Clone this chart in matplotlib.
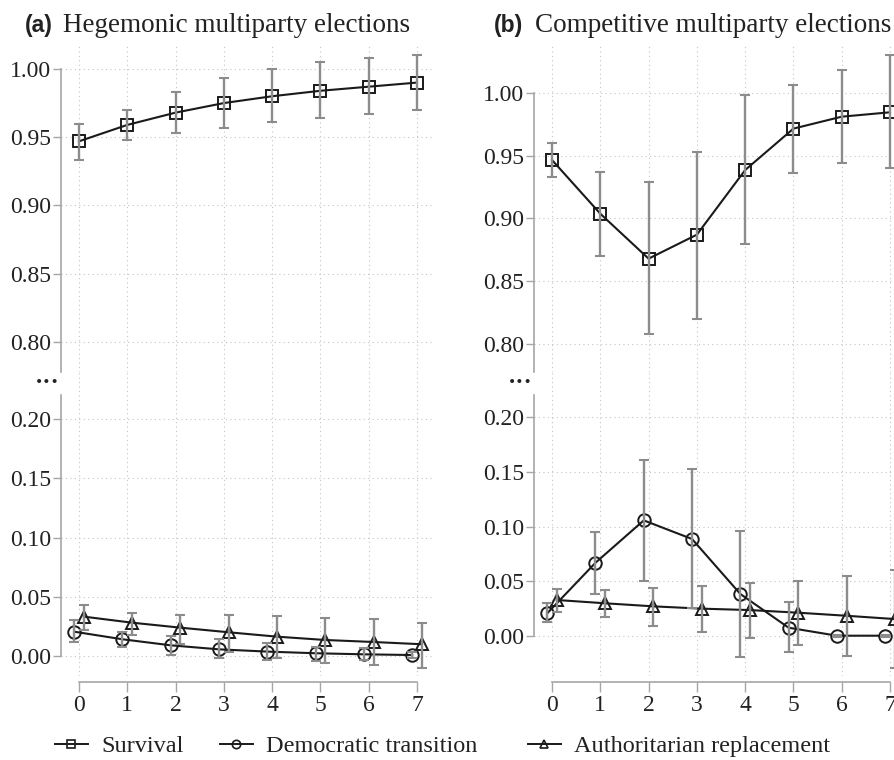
import numpy as np
import matplotlib
matplotlib.use("Agg")
import matplotlib.pyplot as plt
from matplotlib.lines import Line2D

# years since election
years = np.arange(8)

# (a) hegemonic multiparty elections
a_surv = np.array([0.947, 0.959, 0.968, 0.975, 0.980, 0.984, 0.987, 0.990])
a_surv_lo = np.array([0.933, 0.948, 0.953, 0.957, 0.961, 0.964, 0.967, 0.970])
a_surv_hi = np.array([0.960, 0.970, 0.983, 0.993, 1.000, 1.005, 1.008, 1.010])
a_dem = np.array([0.0205, 0.0141, 0.0090, 0.0056, 0.0037, 0.0023, 0.0014, 0.0008])
a_dem_lo = np.array([0.012, 0.008, 0.001, -0.002, -0.003, -0.004, -0.003, -0.002])
a_dem_hi = np.array([0.030, 0.020, 0.017, 0.014, 0.011, 0.008, 0.0065, 0.0035])
a_auth = np.array([0.0332, 0.0281, 0.0239, 0.0200, 0.0163, 0.0135, 0.0118, 0.0099])
a_auth_lo = np.array([0.022, 0.018, 0.010, 0.003, -0.002, -0.006, -0.008, -0.010])
a_auth_hi = np.array([0.043, 0.036, 0.035, 0.035, 0.034, 0.032, 0.031, 0.028])

# (b) competitive multiparty elections
b_surv = np.array([0.9466, 0.9038, 0.868, 0.8871, 0.9386, 0.9716, 0.9811, 0.9846])
b_surv_lo = np.array([0.933, 0.870, 0.808, 0.820, 0.880, 0.936, 0.944, 0.940])
b_surv_hi = np.array([0.960, 0.937, 0.929, 0.953, 0.998, 1.006, 1.018, 1.030])
b_dem = np.array([0.0207, 0.0669, 0.1056, 0.0886, 0.0384, 0.0076, 0.0003, 0.0003])
b_dem_lo = np.array([0.0125, 0.038, 0.050, 0.026, -0.0195, -0.015, -0.0005, -0.0005])
b_dem_hi = np.array([0.030, 0.095, 0.161, 0.1525, 0.096, 0.031, 0.0012, 0.0012])
b_auth = np.array([0.0329, 0.0299, 0.0271, 0.0250, 0.0237, 0.0213, 0.0185, 0.0155])
b_auth_lo = np.array([0.022, 0.017, 0.009, 0.0034, -0.0015, -0.0085, -0.018, -0.0295])
b_auth_hi = np.array([0.043, 0.042, 0.044, 0.046, 0.048, 0.050, 0.055, 0.060])

top_ticks = [0.80, 0.85, 0.90, 0.95, 1.00]
bot_ticks = [0.00, 0.05, 0.10, 0.15, 0.20]
labels = ["Survival", "Democratic transition", "Authoritarian replacement"]

plt.rcParams["font.family"] = ["Liberation Serif", "DejaVu Serif"]
TXT = "#222222"
SPINE = "#a6a6a6"
ERR = "#8c8c8c"
LINE = "#1a1a1a"

W, H = 895, 760
fig = plt.figure(figsize=(W / 100, H / 100), dpi=100)


def box(left, top, right, bottom):
    return [left / W, 1 - bottom / H, (right - left) / W, (bottom - top) / H]


def style(ax, ylim, ticks, spine_lo, spine_hi, bottom_axis):
    ax.set_xlim(-0.373, 7.331)
    ax.set_ylim(*ylim)
    ax.set_yticks(ticks)
    ax.set_yticklabels(["%.2f" % t for t in ticks])
    ax.set_xticks(years)
    ax.grid(True, color="#c4c4c4", linestyle=(0, (1, 3)), linewidth=0.8)
    ax.set_axisbelow(True)
    for s in ["top", "right"]:
        ax.spines[s].set_visible(False)
    ax.spines["left"].set_color(SPINE)
    ax.spines["left"].set_linewidth(1.2)
    ax.spines["left"].set_bounds(spine_lo, spine_hi)
    ax.tick_params(axis="y", length=5.5, width=1.0, color=SPINE, pad=1.5,
                   labelsize=17, labelcolor=TXT)
    if bottom_axis:
        ax.spines["bottom"].set_position(("outward", 4))
        ax.spines["bottom"].set_bounds(0, 7)
        ax.spines["bottom"].set_color(SPINE)
        ax.spines["bottom"].set_linewidth(1.2)
        ax.tick_params(axis="x", length=7, width=1.0, color=SPINE, pad=3,
                       labelsize=17, labelcolor=TXT)
    else:
        ax.spines["bottom"].set_visible(False)
        ax.tick_params(axis="x", length=0, labelbottom=False)
    ax.patch.set_alpha(0)


def series(ax, x, y, lo, hi, marker):
    ax.errorbar(x, y, yerr=[y - lo, hi - y], fmt="none", ecolor=ERR,
                elinewidth=1.7, capsize=3.5, capthick=1.5, zorder=3)
    ax.plot(x, y, color=LINE, lw=1.5, marker=marker, ms=8.5 if marker == "s" else 9,
            mfc="none", mec=LINE, mew=1.4, zorder=2)


panels = [
    dict(left=61, top_ylim=(0.778, 1.019), bot_ylim=(-0.0169, 0.2397),
         surv=(a_surv, a_surv_lo, a_surv_hi), dem=(a_dem, a_dem_lo, a_dem_hi),
         auth=(a_auth, a_auth_lo, a_auth_hi), tag="(a)",
         title="Hegemonic multiparty elections", tag_x=25, title_x=63, dots_x=47),
    dict(left=534, top_ylim=(0.7777, 1.0398), bot_ylim=(-0.0365, 0.2411),
         surv=(b_surv, b_surv_lo, b_surv_hi), dem=(b_dem, b_dem_lo, b_dem_hi),
         auth=(b_auth, b_auth_lo, b_auth_hi), tag="(b)",
         title="Competitive multiparty elections", tag_x=494, title_x=535, dots_x=520),
]

for p in panels:
    right = p["left"] + 372
    ax_top = fig.add_axes(box(p["left"], 43, right, 372))
    ax_bot = fig.add_axes(box(p["left"], 372, right, 676))
    style(ax_top, p["top_ylim"], top_ticks, p["top_ylim"][0], 1.0, False)
    style(ax_bot, p["bot_ylim"], bot_ticks, 0.0, 0.22, True)

    series(ax_top, years, *p["surv"], "s")
    series(ax_bot, years - 0.1, *p["dem"], "o")
    series(ax_bot, years + 0.1, *p["auth"], "^")

    fig.text(p["tag_x"] / W, 1 - 32 / H, p["tag"], family=["Liberation Sans", "DejaVu Sans"],
             fontweight="bold", fontsize=16.5, color=TXT, va="baseline", ha="left")
    fig.text(p["title_x"] / W, 1 - 32 / H, p["title"], fontsize=19.5, color=TXT,
             va="baseline", ha="left")
    # break marker between the two halves of the y axis
    fig.text(p["dots_x"] / W, 1 - 383 / H, "\u00b7\u00b7\u00b7", fontsize=18, fontweight="bold",
             color=TXT, ha="center", va="center")

# legend, one entry per slot like the original
markers = ["s", "o", "^"]
slots = [55, 220, 528]
for lab, m, x in zip(labels, markers, slots):
    h = Line2D([], [], color=LINE, lw=1.4, marker=m, ms=6, mfc="none", mec=LINE, mew=1.2)
    fig.legend(handles=[h], labels=[lab], loc="center left",
               bbox_to_anchor=(x / W, 1 - 746 / H), frameon=False, fontsize=17.5,
               handlelength=1.35, handletextpad=0.55, borderpad=0, borderaxespad=0,
               labelcolor=TXT)

fig.savefig("out.png", dpi=100)
